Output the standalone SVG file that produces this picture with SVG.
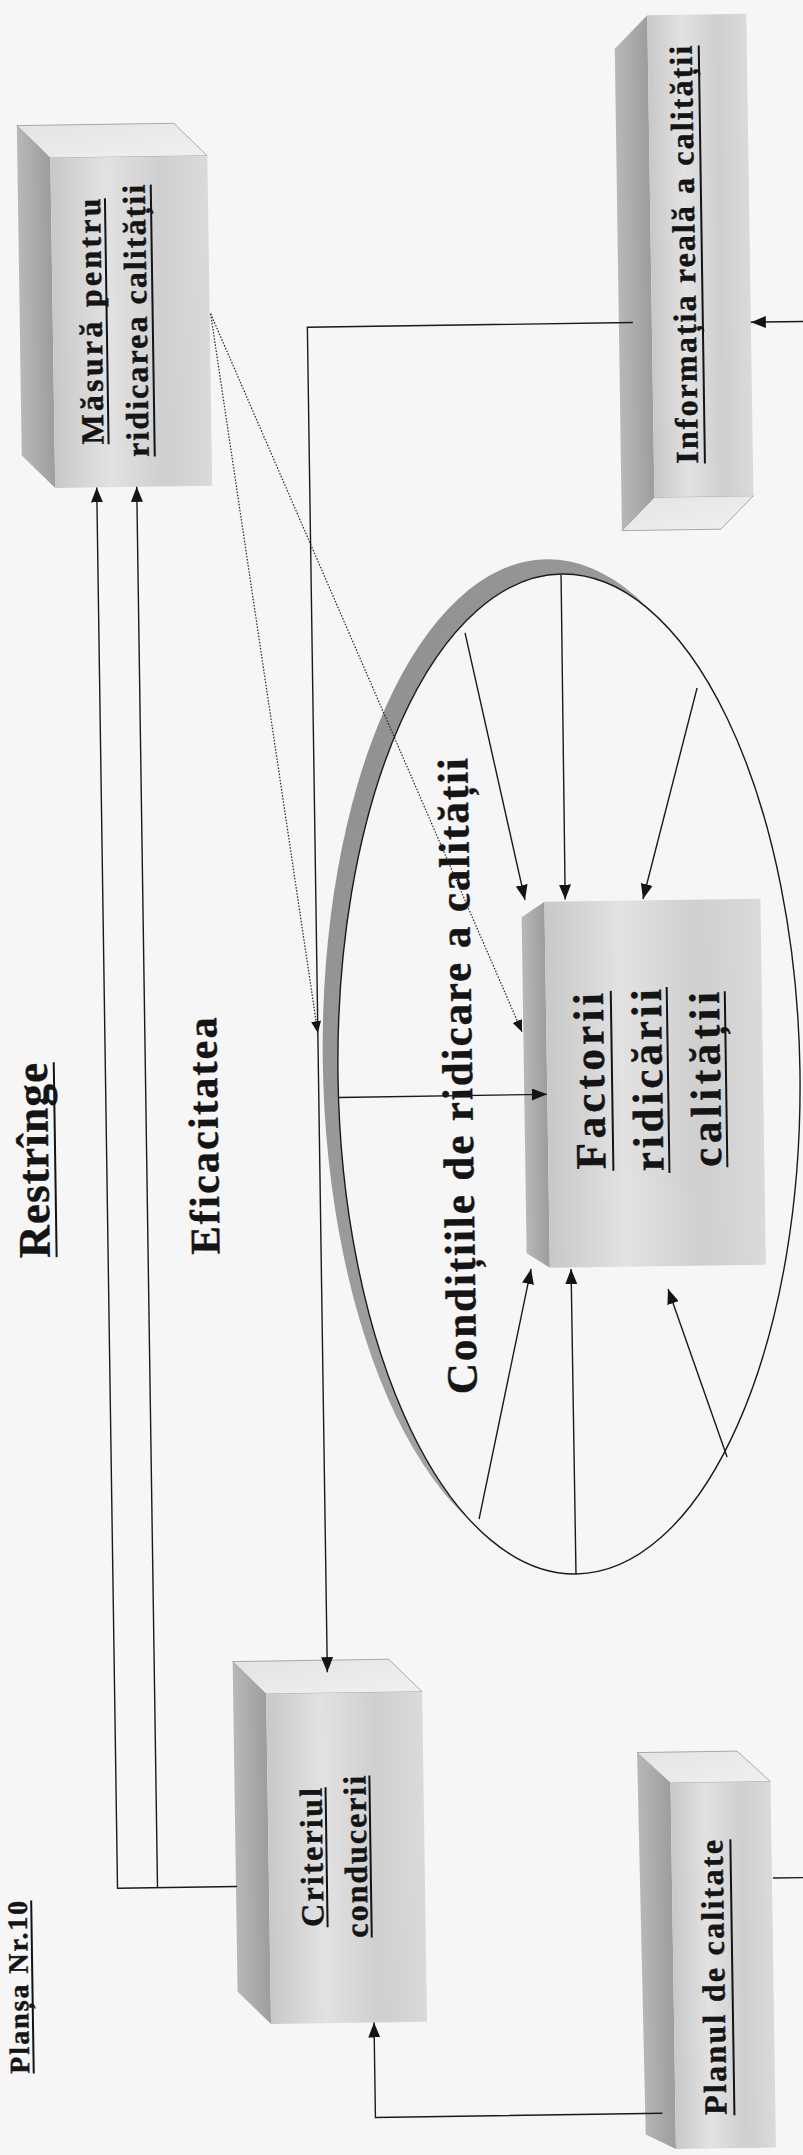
<svg xmlns="http://www.w3.org/2000/svg" width="803" height="2155" viewBox="0 0 803 2155">
<defs>
<linearGradient id="gFront" x1="0" y1="0" x2="1" y2="0">
<stop offset="0" stop-color="#c8c8c8"/>
<stop offset="0.35" stop-color="#e2e2e2"/>
<stop offset="0.7" stop-color="#cfcfcf"/>
<stop offset="1" stop-color="#dadada"/>
</linearGradient>
<linearGradient id="gSide" x1="0" y1="0" x2="1" y2="0">
<stop offset="0" stop-color="#b8b8b8"/>
<stop offset="1" stop-color="#9d9d9d"/>
</linearGradient>
<linearGradient id="gTop" x1="0" y1="0" x2="1" y2="1">
<stop offset="0" stop-color="#e4e4e4"/>
<stop offset="1" stop-color="#f0f0f0"/>
</linearGradient>
<linearGradient id="gRing" x1="0" y1="0" x2="1" y2="1">
<stop offset="0" stop-color="#8c8c8c"/>
<stop offset="1" stop-color="#b4b4b4"/>
</linearGradient>
<marker id="arr" viewBox="0 0 15 12" markerWidth="15" markerHeight="12" refX="15" refY="6" orient="auto" markerUnits="userSpaceOnUse">
<path d="M0,0 L15,6 L0,12 z" fill="#141414"/>
</marker>
<marker id="arrS" viewBox="0 0 12 10" markerWidth="12" markerHeight="10" refX="12" refY="5" orient="auto" markerUnits="userSpaceOnUse">
<path d="M0,0 L12,5 L0,10 z" fill="#141414"/>
</marker>
</defs>
<style>
.t{font-family:"Liberation Serif","Times New Roman",serif;font-weight:bold;fill:#141414;stroke:#141414;stroke-width:0.45}
.s30{font-size:32px}
.s40{font-size:43px}
.ul{stroke:#141414;stroke-width:2}
.ln{fill:none;stroke:#1a1a1a;stroke-width:1.4}
.dot{fill:none;stroke:#222;stroke-width:1.2;stroke-dasharray:1.5 1.6}
.front{fill:url(#gFront)}
.side{fill:url(#gSide)}
.top{fill:url(#gTop);stroke:#8a8a8a;stroke-width:0.7}
</style>
<rect width="803" height="2155" fill="#f7f6f6"/>
<g transform="rotate(-0.85 401 1077)">

<g id="conditii">
<ellipse cx="554" cy="1061.5" rx="231" ry="500" fill="url(#gRing)"/>
<ellipse cx="569" cy="1076.5" rx="231" ry="500" fill="#f7f6f6" stroke="#1a1a1a" stroke-width="1.4"/>
<text class="t s40" transform="translate(472,1077) rotate(-90)" text-anchor="middle" textLength="636" lengthAdjust="spacing">Condițiile de ridicare a calității</text>
</g>

<g id="masura">
<polygon class="side" points="31,120 64,153 64,483 31,450"/>
<polygon class="top" points="31,120 188,120 221,153 64,153"/>
<rect class="front" x="64" y="153" width="157" height="330"/>
<text class="t s30" transform="translate(113,317) rotate(-90)" text-anchor="middle" textLength="246" lengthAdjust="spacing">Măsură pentru</text>
<line class="ul" x1="118" y1="194" x2="118" y2="440"/>
<text class="t s30" transform="translate(158,317) rotate(-90)" text-anchor="middle" textLength="272" lengthAdjust="spacing">ridicarea calității</text>
<line class="ul" x1="164" y1="181" x2="164" y2="453"/>
</g>

<g id="informatia">
<polygon class="side" points="663,19 630,52 630,534 663,501"/>
<polygon class="top" points="663,501 762,501 729,534 630,534"/>
<rect class="front" x="663" y="19" width="99" height="482"/>
<text class="t s30" transform="translate(707,259) rotate(-90)" text-anchor="middle" textLength="418" lengthAdjust="spacing">Informația reală a calității</text>
<line class="ul" x1="714" y1="50" x2="714" y2="468"/>
</g>

<g id="factorii">
<polygon class="side" points="547,904 524,919 524,1255 547,1270"/>
<rect class="front" x="547" y="904" width="216" height="366"/>
<text class="t s40" transform="translate(604,1084) rotate(-90)" text-anchor="middle" textLength="176" lengthAdjust="spacing">Factorii</text>
<line class="ul" x1="612" y1="994" x2="612" y2="1174"/>
<text class="t s40" transform="translate(662,1084) rotate(-90)" text-anchor="middle" textLength="182" lengthAdjust="spacing">ridicării</text>
<line class="ul" x1="668" y1="991" x2="668" y2="1177"/>
<text class="t s40" transform="translate(720,1084) rotate(-90)" text-anchor="middle" textLength="175" lengthAdjust="spacing">calității</text>
<line class="ul" x1="726" y1="996" x2="726" y2="1172"/>
</g>

<g id="criteriul">
<polygon class="side" points="224,1659 257,1692 257,2022 224,1989"/>
<polygon class="top" points="224,1659 380,1659 413,1692 257,1692"/>
<rect class="front" x="257" y="1692" width="156" height="330"/>
<text class="t s30" transform="translate(311,1856) rotate(-90)" text-anchor="middle" textLength="139" lengthAdjust="spacing">Criteriul</text>
<line class="ul" x1="315" y1="1786" x2="315" y2="1926"/>
<text class="t s30" transform="translate(355,1856) rotate(-90)" text-anchor="middle" textLength="162" lengthAdjust="spacing">conducerii</text>
<line class="ul" x1="359" y1="1775" x2="359" y2="1937"/>
</g>

<g id="planul">
<polygon class="top" points="627,1756 727,1756 760,1787 660,1787"/>
<polygon class="side" points="627,1756 660,1787 660,2153 630,2138"/>
<rect class="front" x="660" y="1787" width="100" height="366"/>
<text class="t s30" transform="translate(711,1982) rotate(-90)" text-anchor="middle" textLength="275" lengthAdjust="spacing">Planul de calitate</text>
<line class="ul" x1="719" y1="1844" x2="719" y2="2120"/>
</g>

<g id="labels">
<text class="t" font-size="45" transform="translate(47,1155) rotate(-90)" text-anchor="middle" textLength="195" lengthAdjust="spacing">Restrînge</text>
<line class="ul" x1="54" y1="1057" x2="54" y2="1252"/>
<text class="t" font-size="42" transform="translate(217,1133) rotate(-90)" text-anchor="middle" textLength="237" lengthAdjust="spacing">Eficacitatea</text>
<text class="t" font-size="28" transform="translate(14.5,1981.5) rotate(-90)" text-anchor="middle" textLength="173" lengthAdjust="spacing">Planșa Nr.10</text>
<line class="ul" x1="19" y1="1895" x2="19" y2="2068"/>
</g>

<g id="connectors">
<path class="ln" d="M644,326 H318.5 V1671" marker-end="url(#arr)"/>
<path class="ln" d="M815,327.5 H762" marker-end="url(#arr)"/>
<path class="ln" d="M225,1884 H105.5 V483" marker-end="url(#arr)"/>
<path class="ln" d="M145.5,1884 V483" marker-end="url(#arr)"/>
<path class="ln" d="M647,2117 H360 V2022" marker-end="url(#arr)"/>
<path class="ln" d="M761,1883.5 H815"/>
<path class="dot" d="M222,311 L318.5,1031.8" marker-end="url(#arrS)"/>
<path class="dot" d="M222,311 L522.7,1033.8" marker-end="url(#arrS)"/>
<path class="ln" d="M471.6,633.9 L527.6,901.8" marker-end="url(#arr)"/>
<path class="ln" d="M568.5,577 L567.8,902" marker-end="url(#arr)"/>
<path class="ln" d="M702.8,692.4 L645.6,902.6" marker-end="url(#arr)"/>
<path class="ln" d="M472.5,1520.2 L528.2,1270.9" marker-end="url(#arr)"/>
<path class="ln" d="M568.6,1576.6 L568.2,1271.5" marker-end="url(#arr)"/>
<path class="ln" d="M721.4,1461.8 L664.9,1292.9" marker-end="url(#arr)"/>
<path class="ln" d="M338,1096.5 L546.7,1096.5" marker-end="url(#arr)"/>
</g>
</g>
</svg>
